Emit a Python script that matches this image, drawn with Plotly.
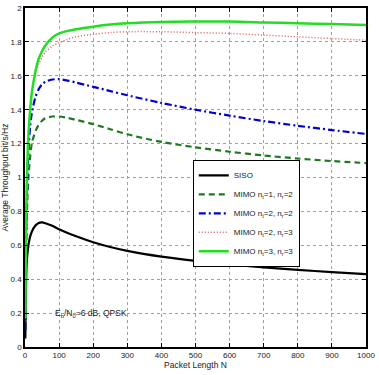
import plotly.graph_objects as go

N = [1, 2, 5, 10, 15, 20, 30, 40, 50, 60, 80, 100, 125, 150, 200, 250, 300, 400, 500, 600, 700, 800, 900, 1000]

siso = [0.05, 0.25, 0.5, 0.6, 0.65, 0.68, 0.715, 0.732, 0.735, 0.73, 0.715, 0.695, 0.673, 0.653, 0.618, 0.59, 0.567, 0.533, 0.508, 0.487, 0.47, 0.455, 0.442, 0.43]
mimo_12 = [0.1, 0.35, 0.75, 1.0, 1.12, 1.2, 1.27, 1.31, 1.335, 1.35, 1.36, 1.36, 1.352, 1.34, 1.315, 1.285, 1.255, 1.21, 1.178, 1.152, 1.13, 1.112, 1.097, 1.085]
mimo_22 = [0.1, 0.4, 0.85, 1.15, 1.3, 1.38, 1.47, 1.52, 1.55, 1.565, 1.578, 1.58, 1.572, 1.56, 1.535, 1.51, 1.485, 1.44, 1.40, 1.365, 1.333, 1.305, 1.28, 1.257]
mimo_23 = [0.15, 0.4, 0.9, 1.22, 1.4, 1.5, 1.61, 1.67, 1.71, 1.74, 1.775, 1.795, 1.815, 1.83, 1.845, 1.855, 1.86, 1.86, 1.855, 1.85, 1.84, 1.83, 1.82, 1.81]
mimo_33 = [0.17, 0.45, 0.95, 1.25, 1.4, 1.5, 1.62, 1.7, 1.745, 1.78, 1.825, 1.85, 1.865, 1.875, 1.89, 1.902, 1.91, 1.918, 1.92, 1.92, 1.915, 1.91, 1.905, 1.9]

x_ticks = [0, 100, 200, 300, 400, 500, 600, 700, 800, 900, 1000]
y_ticks = [0, 0.2, 0.4, 0.6, 0.8, 1, 1.2, 1.4, 1.6, 1.8, 2]

FONT = "Liberation Sans Narrow, Arial Narrow, Liberation Sans, Arial"
TXT = "#222"

fig = go.Figure()
fig.add_trace(go.Scatter(x=N, y=siso, mode="lines", name="SISO",
                         line=dict(color="black", width=2.2, shape="spline", smoothing=0.8)))
fig.add_trace(go.Scatter(x=N, y=mimo_12, mode="lines", name="MIMO n<sub>t</sub>=1, n<sub>r</sub>=2",
                         line=dict(color="#1f7a1f", width=2.2, dash="6px,4px", shape="spline", smoothing=0.8)))
fig.add_trace(go.Scatter(x=N, y=mimo_22, mode="lines", name="MIMO n<sub>t</sub>=2, n<sub>r</sub>=2",
                         line=dict(color="#0000cc", width=2.2, dash="7px,3px,2px,3px", shape="spline", smoothing=0.8)))
fig.add_trace(go.Scatter(x=N, y=mimo_23, mode="lines", name="MIMO n<sub>t</sub>=2, n<sub>r</sub>=3",
                         line=dict(color="#e06060", width=1.5, dash="1px,2px", shape="spline", smoothing=0.8)))
fig.add_trace(go.Scatter(x=N, y=mimo_33, mode="lines", name="MIMO n<sub>t</sub>=3, n<sub>r</sub>=3",
                         line=dict(color="#22dd22", width=2.5, shape="spline", smoothing=0.8)))

axis_common = dict(showline=True, linecolor="black", linewidth=1.5, mirror="ticks",
                   ticks="inside", ticklen=4, tickcolor="black", automargin=False,
                   showgrid=True, gridcolor="#a0a0a0", griddash="dot", gridwidth=1,
                   zeroline=False, tickfont=dict(family=FONT, size=8, color=TXT))

fig.update_xaxes(range=[0, 1000], tickvals=x_ticks, ticktext=[str(v) for v in x_ticks],
                 title=dict(text="Packet Length N", font=dict(family=FONT, size=8.5, color=TXT), standoff=3),
                 **axis_common)
fig.update_yaxes(range=[0, 2], tickvals=y_ticks, ticktext=[("%g" % v) for v in y_ticks],
                 title=dict(text="Average Throughput bit/s/Hz", font=dict(family=FONT, size=8.5, color=TXT), standoff=3),
                 **axis_common)

fig.add_annotation(x=82, y=0.2, xref="x", yref="y", xanchor="left", yanchor="middle",
                   text="E<sub>b</sub>/N<sub>0</sub>=6 dB, QPSK", showarrow=False,
                   font=dict(family=FONT, size=8.5, color=TXT))

fig.update_layout(
    width=379, height=375,
    margin=dict(l=25, r=13, t=8, b=28),
    paper_bgcolor="white", plot_bgcolor="white",
    showlegend=True,
    legend=dict(x=0.492, y=0.552, xanchor="left", yanchor="top",
                bgcolor="white", bordercolor="black", borderwidth=1,
                font=dict(family=FONT, size=8, color=TXT),
                itemwidth=30, tracegroupgap=0),
)

fig.write_html("out.html", config={"displayModeBar": False},
               post_script="document.body.style.margin='0';")
